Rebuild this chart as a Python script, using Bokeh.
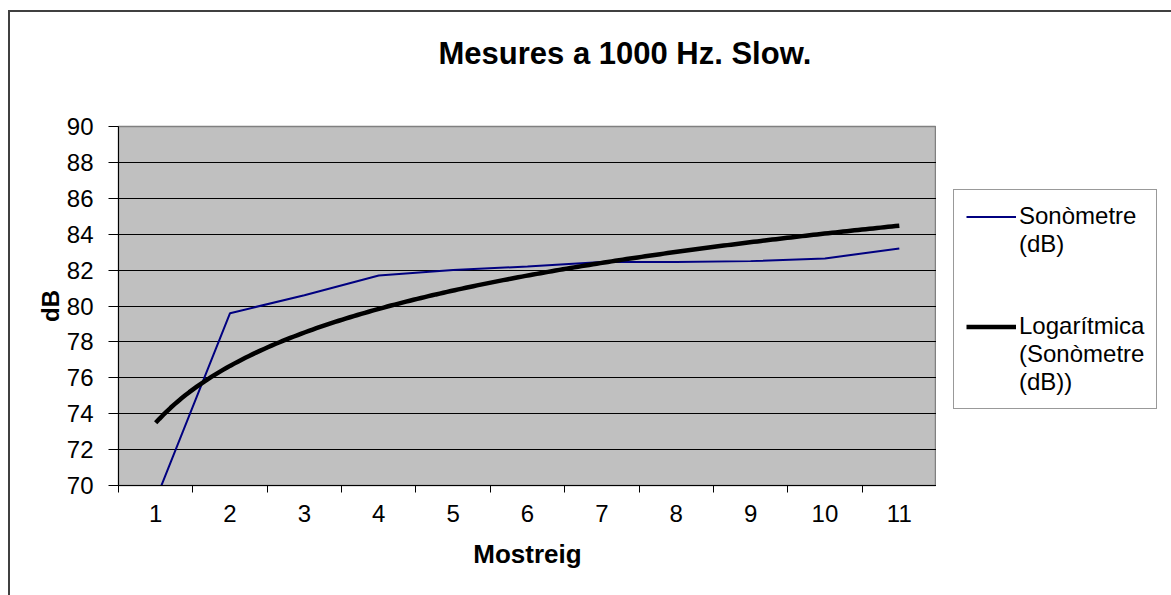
import numpy as np
from bokeh.plotting import figure
from bokeh.models import Range1d, FixedTicker, Legend, LegendItem, Row
from bokeh.embed import file_html
from bokeh.resources import INLINE

# ---- data ----
samples = [1, 2, 3, 4, 5, 6, 7, 8, 9, 10, 11]
sonometre = [69.2, 79.6, 80.6, 81.7, 82.0, 82.2, 82.45, 82.45, 82.5, 82.65, 83.2]
y_ticks = [70, 72, 74, 76, 78, 80, 82, 84, 86, 88, 90]
title_text = "Mesures a 1000 Hz. Slow."
x_label = "Mostreig"
y_label = "dB"
series_label_lines = ["Sonòmetre", "(dB)"]
trend_label_lines = ["Logarítmica", "(Sonòmetre", "(dB))"]

SERIES_COLOR = "#000080"
TREND_COLOR = "black"

# logarithmic trendline (least squares on ln x, as the spreadsheet does)
coef = np.polyfit(np.log(samples), sonometre, 1)
trend_x = np.linspace(samples[0], samples[-1], 200)
trend_y = coef[0] * np.log(trend_x) + coef[1]

FONT = "Liberation Sans"

# ---------------- main chart ----------------
p = figure(width=926, height=583, output_backend="svg", toolbar_location=None,
           x_range=Range1d(0.5, 11.5), y_range=Range1d(70, 90),
           min_border_left=108, min_border_right=0,
           min_border_top=114, min_border_bottom=110)
p.background_fill_color = "#C0C0C0"
p.border_fill_color = "white"
p.outline_line_color = "#808080"
p.outline_line_width = 1.5

# title (a blank second line lifts the visible line well above the plot area)
p.title.text = title_text + "\n "
p.title.align = "left"
p.title.offset = 320
p.title.text_font = FONT
p.title.text_font_size = "31px"
p.title.text_font_style = "bold"
p.title.text_color = "black"
p.title.text_line_height = 1.03
p.title.standoff = 39

# x axis
p.xaxis.ticker = FixedTicker(ticks=samples, minor_ticks=[s - 0.5 for s in samples] + [samples[-1] + 0.5])
p.xaxis.major_tick_line_color = None
p.xaxis.major_tick_out = 0
p.xaxis.major_tick_in = 0
p.xaxis.minor_tick_out = 7
p.xaxis.minor_tick_in = 0
p.xaxis.minor_tick_line_color = "black"
p.xaxis.axis_line_color = "black"
p.xaxis.major_label_text_font = FONT
p.xaxis.major_label_text_font_size = "24px"
p.xaxis.major_label_text_color = "black"
p.xaxis.major_label_standoff = 12
p.xaxis.axis_label = x_label
p.xaxis.axis_label_text_font = FONT
p.xaxis.axis_label_text_font_size = "26px"
p.xaxis.axis_label_text_font_style = "bold"
p.xaxis.axis_label_text_color = "black"
p.xaxis.axis_label_standoff = 14

# y axis
p.yaxis.ticker = FixedTicker(ticks=y_ticks)
p.yaxis.major_tick_out = 10
p.yaxis.major_tick_in = 0
p.yaxis.minor_tick_line_color = None
p.yaxis.major_tick_line_color = "black"
p.yaxis.axis_line_color = "black"
p.yaxis.major_label_text_font = FONT
p.yaxis.major_label_text_font_size = "24px"
p.yaxis.major_label_text_color = "black"
p.yaxis.major_label_standoff = 15
p.yaxis.axis_label = y_label
p.yaxis.axis_label_text_font = FONT
p.yaxis.axis_label_text_font_size = "24px"
p.yaxis.axis_label_text_font_style = "bold"
p.yaxis.axis_label_text_color = "black"
p.yaxis.axis_label_standoff = 0

p.xgrid.visible = False
p.ygrid.ticker = FixedTicker(ticks=y_ticks)
p.ygrid.grid_line_color = "black"
p.ygrid.grid_line_width = 1

p.line(samples, sonometre, line_color=SERIES_COLOR, line_width=2)
p.line(trend_x, trend_y, line_color=TREND_COLOR, line_width=4.5)

# ---------------- legend panel ----------------
# Same series drawn again in a side figure whose ranges exclude them,
# so only their legend samples show.
lg = figure(width=235, height=583, output_backend="svg", toolbar_location=None,
            x_range=Range1d(-2, -1), y_range=Range1d(0, 1),
            x_axis_location=None, y_axis_location=None,
            min_border=0, min_border_left=0, min_border_right=0,
            min_border_top=0, min_border_bottom=0)
lg.grid.visible = False
lg.outline_line_color = None
lg.background_fill_color = "white"
lg.border_fill_color = "white"

k1 = lg.line(samples, sonometre, line_color=SERIES_COLOR, line_width=2)
k2 = lg.line(trend_x, trend_y, line_color=TREND_COLOR, line_width=4.5)
blank = lg.line(samples, sonometre, line_alpha=0)

items = [LegendItem(label=series_label_lines[0], renderers=[k1])]
items += [LegendItem(label=t, renderers=[blank]) for t in series_label_lines[1:]]
items += [LegendItem(label=" ", renderers=[blank]), LegendItem(label="  ", renderers=[blank])]
items += [LegendItem(label=trend_label_lines[0], renderers=[k2])]
items += [LegendItem(label=t, renderers=[blank]) for t in trend_label_lines[1:]]

legend = Legend(items=items, location=(17, 76), orientation="vertical")
legend.label_text_font = FONT
legend.label_text_font_size = "24px"
legend.label_text_color = "black"
legend.label_height = 27
legend.glyph_height = 27
legend.glyph_width = 50
legend.label_standoff = 3
legend.padding = 12
legend.margin = 0
legend.spacing = 0
legend.border_line_color = "#333333"
legend.border_line_width = 1.5
legend.background_fill_color = "white"
legend.background_fill_alpha = 1
lg.add_layout(legend, "center")

layout = Row(children=[p, lg], spacing=0, margin=(10, 0, 0, 8),
             styles={"border-top": "2px solid #404040", "border-left": "2px solid #404040"})

open("out.html", "w").write(file_html(layout, INLINE))
